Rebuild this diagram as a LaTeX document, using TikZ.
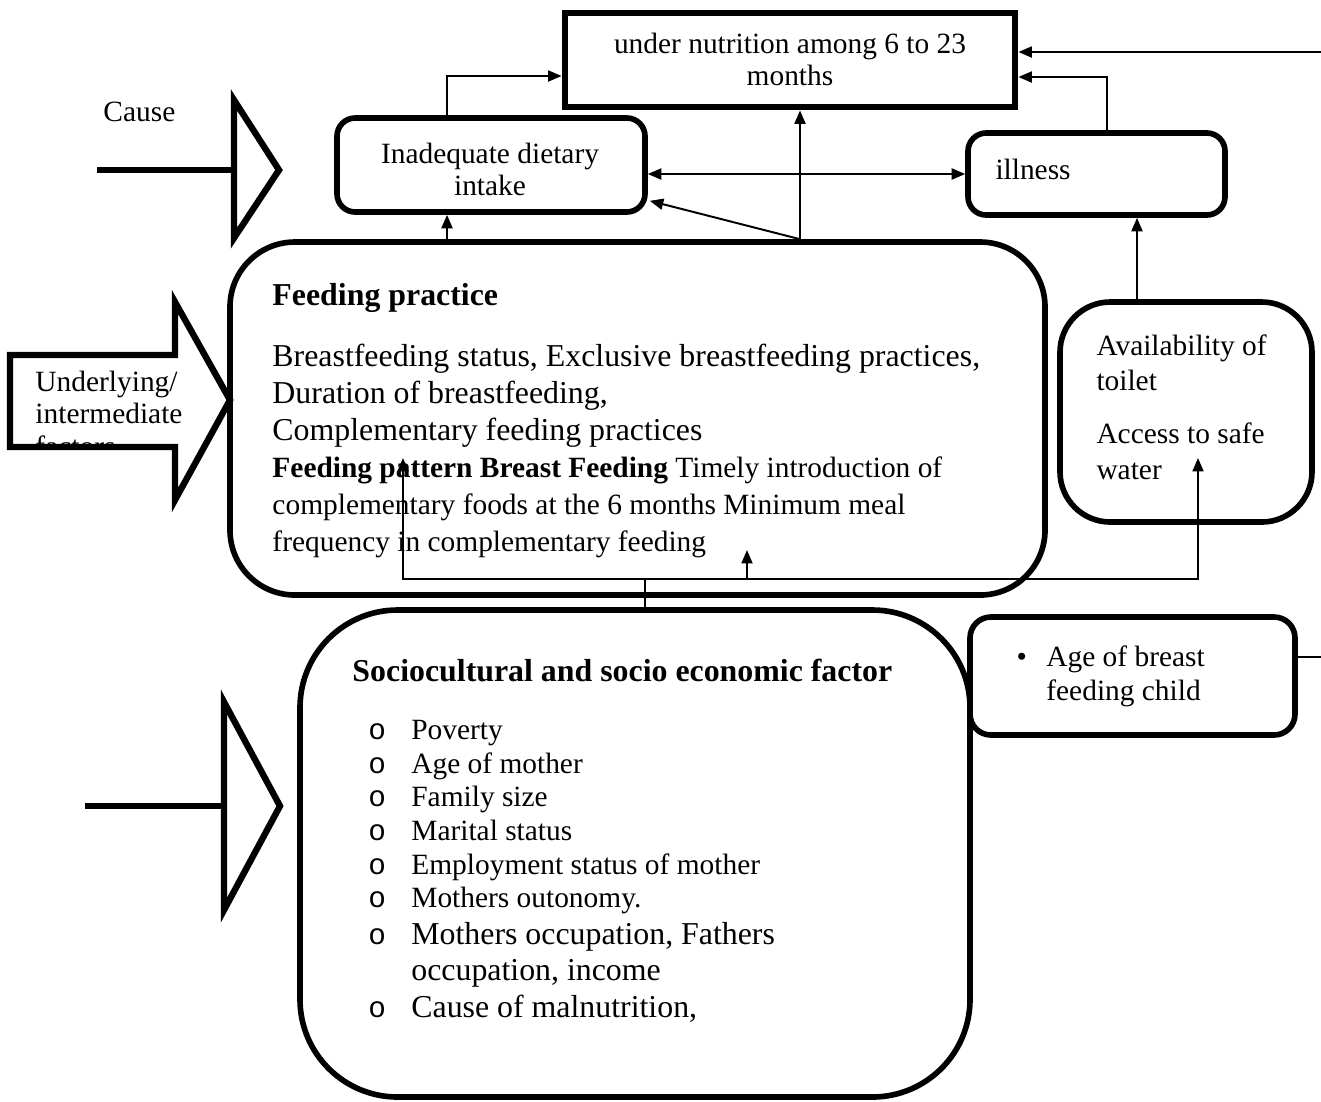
\documentclass[tikz,border=0pt]{standalone}
\usepackage{fontspec}
\setmainfont{Liberation Serif}
\newfontfamily\bulletfont{Liberation Mono}
\usetikzlibrary{
  arrows.meta,
  positioning,
  fit,
  calc
}
\newcommand{\sizeTw}{\fontsize{12}{13.8}\selectfont}
\newcommand{\sizeTh}{\fontsize{13}{15}\selectfont}
\newcommand{\socioitem}[1]{\makebox[17.5pt][l]{\bulletfont o}#1}
\tikzset{
  outcome/.style={draw,line width=2.8pt,inner sep=0pt},
  factorbox/.style={draw,line width=2.3pt,inner sep=0pt},
  boxtext/.style={anchor=base west,inner sep=0pt,align=left},
  midtext/.style={anchor=base,inner sep=0pt,align=center,font=\fontsize{12}{12.8}\selectfont},
  link/.style={-{Triangle[length=5.5pt,width=4.5pt]},line width=0.8pt},
  twolink/.style={{Triangle[length=5.5pt,width=4.5pt]}-{Triangle[length=5.5pt,width=4.5pt]},line width=0.8pt},
  plainlink/.style={line width=0.8pt},
  levelarrow/.style={draw,line width=2.6pt,miter limit=20}
}

\begin{document}
\begin{tikzpicture}[x=0.014345cm,y=-0.014345cm]
\path[fill=white,use as bounding box] (0,0) rectangle (1321,1101);

% boxes
\node[outcome,fit={(565,13) (1015,107)}] (nut) {};
\node[factorbox,rounded corners=0.26cm,fit={(337,118) (645,212)}] (inadeq) {};
\node[factorbox,rounded corners=0.26cm,fit={(968,133) (1225,215)}] (ill) {};
\node[factorbox,rounded corners=0.93cm,fit={(230,242) (1045,595)}] (feed) {};
\node[factorbox,rounded corners=0.72cm,fit={(1060,302) (1312,522)}] (avail) {};
\node[factorbox,rounded corners=1.4cm,fit={(300,610) (970,1097)}] (socio) {};
\node[factorbox,rounded corners=0.3cm,fit={(970,617) (1295,735)}] (age) {};

% box texts (base = last line)
\node[midtext] (nuttxt) at (790,85) {under nutrition among 6 to 23\\months};
\node[midtext] (inadeqtxt) at (490,195) {Inadequate dietary\\intake};
\node[boxtext,font=\sizeTw] (illtxt) at (995,179) {illness};
\node[boxtext,font=\fontsize{12}{15.1}\selectfont] (feedtxt) at (272,551) {%
{\sizeTh\bfseries Feeding practice}\\[9.5pt]
{\sizeTh Breastfeeding status, Exclusive breastfeeding practices,}\\
{\sizeTh Duration of breastfeeding,}\\
{\sizeTh Complementary feeding practices}\\
\textbf{Feeding pattern Breast Feeding} Timely introduction of\\
complementary foods at the 6 months Minimum meal\\
frequency in complementary feeding};
\node[boxtext,font=\fontsize{12}{14.3}\selectfont] (availtxt) at (1096,479) {Availability of\\toilet\\[7.7pt]Access to safe\\water};
\node[boxtext,font=\sizeTh\bfseries] (sociotitle) at (352,681) {Sociocultural and socio economic factor};
\node[boxtext,font=\fontsize{12}{13.75}\selectfont] (sociolist) at (368,1017) {%
\socioitem{Poverty}\\
\socioitem{Age of mother}\\
\socioitem{Family size}\\
\socioitem{Marital status}\\
\socioitem{Employment status of mother}\\
\socioitem{Mothers outonomy.}\\[1.35pt]
\socioitem{\sizeTh Mothers occupation, Fathers}\\[0.55pt]
\hspace*{17.5pt}{\sizeTh occupation, income}\\[1.35pt]
\socioitem{\sizeTh Cause of malnutrition,}};
\node[boxtext,font=\fontsize{12}{13.5}\selectfont] (agetxt) at (1016,700) {\makebox[12.2pt][l]{\textbullet}Age of breast\\\hspace*{12.2pt}feeding child};

% level arrows on the left
\node[boxtext,font=\sizeTw] (causetxt) at (103,121) {Cause};
\draw[levelarrow] (97,170) -- (234,170);
\draw[levelarrow] (234,100) -- (279,170) -- (234,238) -- cycle;
\begin{scope}
  \clip (10,355) -- (175,355) -- (175,302) -- (230,400) -- (175,500) -- (175,445) -- (10,445) -- cycle;
  \node[boxtext,font=\fontsize{12}{13.2}\selectfont] (undtxt) at (35,456) {Underlying/\\intermediate\\factors};
\end{scope}
\draw[levelarrow] (10,355) -- (175,355) -- (175,302) -- (230,400) -- (175,500) -- (175,447) -- (10,447) -- cycle;
\draw[levelarrow] (85,806) -- (224,806);
\draw[levelarrow] (224,702) -- (280,806) -- (224,910) -- cycle;

% columns and rows for connectors
\coordinate (xa) at (447,0);
\coordinate (xb) at (800,0);
\coordinate (xc) at (1107,0);
\coordinate (xd) at (1137,0);
\coordinate (xe) at (403,0);
\coordinate (xf) at (747,0);
\coordinate (xg) at (1198,0);
\coordinate (xh) at (645,0);
\coordinate (ya) at (0,76);
\coordinate (yb) at (0,77);
\coordinate (yc) at (0,174);
\coordinate (yd) at (0,579);
\coordinate (ye) at (0,458);
\coordinate (yf) at (0,550);
\coordinate (yg) at (0,458);
\coordinate (yh) at (0,657);
\coordinate (rightA) at (1321,52);
\coordinate (rightB) at (1321,657);

% connectors
\draw[link] (inadeq.north -| xa) |- (nut.west |- ya);
\draw[link] (ill.north -| xc) |- (nut.east |- yb);
\draw[link] (rightA) -- (nut.east |- rightA);
\draw[twolink] (inadeq.east |- yc) -- (ill.west |- yc);
\draw[link] (feed.north -| xb) -- (nut.south -| xb);
\draw[link] (feed.north -| xb) -- ($(inadeq.south east)+(2,-14)$);
\draw[link] (feed.north -| xa) -- (inadeq.south -| xa);
\draw[link] (avail.north -| xd) -- (ill.south -| xd);
\draw[link] (socio.north -| xh) -- (xh |- yd) -| (xe |- ye);
\draw[link] (xh |- yd) -| (xg |- yg);
\draw[link] (xf |- yd) -- (xf |- yf);
\draw[plainlink] (age.east |- yh) -- (rightB);
\end{tikzpicture}
\end{document}
